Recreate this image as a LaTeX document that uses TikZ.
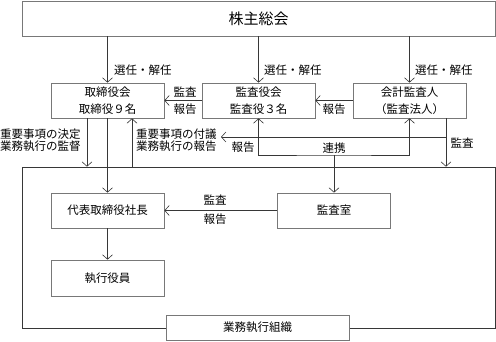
\documentclass[tikz,border=0pt]{standalone}
\usepackage{fontspec}
\setmainfont{Noto Sans CJK JP}
\usetikzlibrary{arrows.meta, positioning, calc}
\definecolor{edge}{RGB}{120,120,120}
\definecolor{wire}{RGB}{55,55,55}

\begin{document}
\begin{tikzpicture}[
    x=1pt, y=-1pt,
    box/.style={rectangle, draw=edge, line width=0.7pt, minimum width=113pt, minimum height=35pt, align=center, inner sep=1pt, font=\fontsize{11.5}{16.5}\selectfont, text=black},
    ptr/.style={wire, line width=0.6pt, -{Straight Barb[length=4.5pt,width=10pt]}},
    dptr/.style={wire, line width=0.6pt, {Straight Barb[length=4.5pt,width=10pt]}-{Straight Barb[length=4.5pt,width=10pt]}},
    lbl/.style={font=\fontsize{11.5}{10.5}\selectfont, inner sep=0pt, align=left, text=black}
]
\useasboundingbox (0,0) rectangle (496,342);

\node[box, minimum width=473pt, font=\fontsize{15}{16}\selectfont] (gm) at (258.5,18.5) {株主総会};
\node[box] (bod) at (107.5,100.5) {取締役会\\取締役９名};
\node[box] (ksy) at (258.5,100.5) {監査役会\\監査役３名};
\node[box] (cpa) at (409.5,100.5) {会計監査人\\（監査法人）};

\node[draw=wire, line width=0.6pt, minimum width=473pt, minimum height=161pt, inner sep=0pt] (org) at (258.5,247.5) {};
\node[box] (pres) at (107.5,210.5) {代表取締役社長};
\node[box] (iao) at (334,210.5) {監査室};
\node[box, minimum height=36pt] (exec) at (107.5,278) {執行役員};
\node[box, minimum width=183pt, minimum height=25pt, fill=white] (orgname) at (257.5,327.5) {業務執行組織};

% 株主総会から
\draw[ptr] (gm.south -| bod) -- (bod.north);
\draw[ptr] (gm.south -| ksy) -- (ksy.north);
\draw[ptr] (gm.south -| cpa) -- (cpa.north);
\node[lbl, anchor=west] (sel1) at (114,70) {選任・解任};
\node[lbl, anchor=west] (sel2) at (264,70) {選任・解任};
\node[lbl, anchor=west] (sel3) at (415,70) {選任・解任};

% 監査・報告
\draw[ptr] (ksy.west) -- (bod.east);
\node[lbl] (aud1) at (185,92) {監査};
\node[lbl] (rep1) at (185,109) {報告};
\draw[ptr] (cpa.west) -- (ksy.east);
\node[lbl] (rep2) at (334,109) {報告};

% 取締役会と業務執行組織
\draw[ptr] ([xshift=-20.5pt]bod.south) -- ([xshift=-20.5pt]bod.south |- org.north);
\node[lbl, anchor=west] (dec) at (0,140) {重要事項の決定\\業務執行の監督};
\draw[ptr] (bod.south) -- (pres.north);
\draw[ptr] ([xshift=24.5pt]bod.south |- org.north) -- ([xshift=24.5pt]bod.south);
\node[lbl, anchor=west] (sub) at (136,140) {重要事項の付議\\業務執行の報告};

% 会計監査人
\coordinate (cpad) at ([xshift=36.5pt]cpa.south);
\draw[ptr] (cpad) -- (cpad |- org.north);
\node[lbl] (aud2) at (462,143) {監査};
\draw[ptr] (cpad |- 0,137) -- (221,137);
\node[lbl] (rep3) at (243,147) {報告};

% 連携
\coordinate (lnk) at (334,155);
\draw[dptr] (ksy.south) |- (lnk) -| (cpa.south);
\node[lbl] (coop) at (334,148) {連携};
\draw[ptr] (lnk) -- (iao.north);

% 監査室
\draw[ptr] (iao.west) -- (pres.east);
\node[lbl] (aud3) at (215,200) {監査};
\node[lbl] (rep4) at (215,219) {報告};

\draw[ptr] (pres.south) -- (exec.north);
\end{tikzpicture}
\end{document}
